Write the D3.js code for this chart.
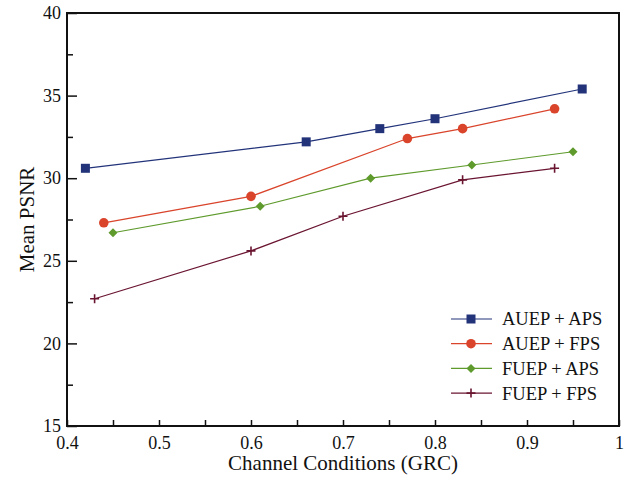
<!DOCTYPE html>
<html><head><meta charset="utf-8">
<script src="https://cdn.jsdelivr.net/npm/d3@7"></script>
<style>body{margin:0;background:#fff}svg{display:block}text{font-family:"Liberation Serif","Times New Roman",serif;fill:#111}</style>
</head><body><div id="c"></div>
<script>
const seriesNames = ["AUEP + APS", "AUEP + FPS", "FUEP + APS", "FUEP + FPS"];
const auepApsX = [0.42, 0.66, 0.74, 0.80, 0.96];
const auepApsY = [30.6, 32.2, 33.0, 33.6, 35.4];
const auepFpsX = [0.44, 0.60, 0.77, 0.83, 0.93];
const auepFpsY = [27.3, 28.9, 32.4, 33.0, 34.2];
const fuepApsX = [0.45, 0.61, 0.73, 0.84, 0.95];
const fuepApsY = [26.7, 28.3, 30.0, 30.8, 31.6];
const fuepFpsX = [0.43, 0.60, 0.70, 0.83, 0.93];
const fuepFpsY = [22.7, 25.6, 27.7, 29.9, 30.6];
const xTicks = [0.4, 0.5, 0.6, 0.7, 0.8, 0.9, 1];
const yTicks = [15, 20, 25, 30, 35, 40];

const W = 626, H = 480;
const m = {l: 67, r: 7, t: 13, b: 54};
const svg = d3.select("#c").append("svg").attr("width", W).attr("height", H);
const x = d3.scaleLinear().domain([0.4, 1]).range([m.l, W - m.r]);
const y = d3.scaleLinear().domain([15, 40]).range([H - m.b, m.t]);

const series = [
  {name: seriesNames[0], xs: auepApsX, ys: auepApsY, color: "#22337a", marker: "square"},
  {name: seriesNames[1], xs: auepFpsX, ys: auepFpsY, color: "#d9442b", marker: "circle"},
  {name: seriesNames[2], xs: fuepApsX, ys: fuepApsY, color: "#5e9a2c", marker: "diamond"},
  {name: seriesNames[3], xs: fuepFpsX, ys: fuepFpsY, color: "#6a1530", marker: "plus"}
];

const xMinor = d3.range(0.45, 1.0, 0.1);
const yMinor = d3.range(17.5, 40, 5);
const gx = svg.append("g").attr("transform", `translate(0,${H - m.b})`)
  .call(d3.axisBottom(x).tickValues(xTicks).tickSize(-6).tickPadding(19).tickFormat(d => d === 1 ? "1" : d3.format(".1f")(d)));
gx.select(".domain").remove();
gx.selectAll("text").attr("font-size", 18).attr("dy", "0.2em").style("font-family", "Liberation Serif");
svg.append("g").attr("transform", `translate(0,${H - m.b})`)
  .call(d3.axisBottom(x).tickValues(xMinor).tickSize(-6).tickFormat(""))
  .select(".domain").remove();

const gy = svg.append("g").attr("transform", `translate(${m.l},0)`)
  .call(d3.axisLeft(y).tickValues(yTicks).tickSize(-10).tickPadding(6));
gy.select(".domain").remove();
gy.selectAll("text").attr("font-size", 18).style("font-family", "Liberation Serif");
svg.append("g").attr("transform", `translate(${m.l},0)`)
  .call(d3.axisLeft(y).tickValues(yMinor).tickSize(-6).tickFormat(""))
  .select(".domain").remove();
svg.selectAll(".tick line").attr("stroke", "#111").attr("stroke-width", 1.5);

svg.append("rect").attr("x", m.l).attr("y", m.t).attr("width", W - m.r - m.l).attr("height", H - m.b - m.t)
  .attr("fill", "none").attr("stroke", "#111").attr("stroke-width", 2);

svg.append("text").attr("x", (m.l + W - m.r) / 2).attr("y", 470).attr("text-anchor", "middle")
  .attr("font-size", 21).text("Channel Conditions (GRC)");
svg.append("text").attr("transform", `translate(34,${(m.t + H - m.b) / 2}) rotate(-90)`)
  .attr("text-anchor", "middle").attr("font-size", 21).text("Mean PSNR");

function drawMarker(g, type, cx, cy, color) {
  if (type === "square") g.append("rect").attr("x", cx - 4.5).attr("y", cy - 4.5).attr("width", 9).attr("height", 9).attr("fill", color);
  else if (type === "circle") g.append("circle").attr("cx", cx).attr("cy", cy).attr("r", 4.8).attr("fill", color);
  else if (type === "diamond") g.append("path").attr("d", `M${cx},${cy-4.5}L${cx+4.5},${cy}L${cx},${cy+4.5}L${cx-4.5},${cy}Z`).attr("fill", color);
  else g.append("path").attr("d", `M${cx-4.5},${cy}H${cx+4.5}M${cx},${cy-4.5}V${cy+4.5}`).attr("stroke", color).attr("stroke-width", 1.6);
}

const line = d3.line().x(d => x(d[0])).y(d => y(d[1]));
series.forEach(s => {
  const pts = s.xs.map((v, i) => [v, s.ys[i]]);
  svg.append("path").datum(pts).attr("d", line).attr("fill", "none").attr("stroke", s.color).attr("stroke-width", 1.2);
  const g = svg.append("g");
  pts.forEach(p => drawMarker(g, s.marker, x(p[0]), y(p[1]), s.color));
});

const lg = svg.append("g");
series.forEach((s, i) => {
  const ly = 319 + i * 24.7;
  lg.append("line").attr("x1", 451).attr("x2", 492).attr("y1", ly).attr("y2", ly).attr("stroke", s.color).attr("stroke-width", 1.2);
  drawMarker(lg, s.marker, 471, ly, s.color);
  lg.append("text").attr("x", 502).attr("y", ly).attr("dy", "0.35em").attr("font-size", 18.5).text(s.name);
});
</script></body></html>
